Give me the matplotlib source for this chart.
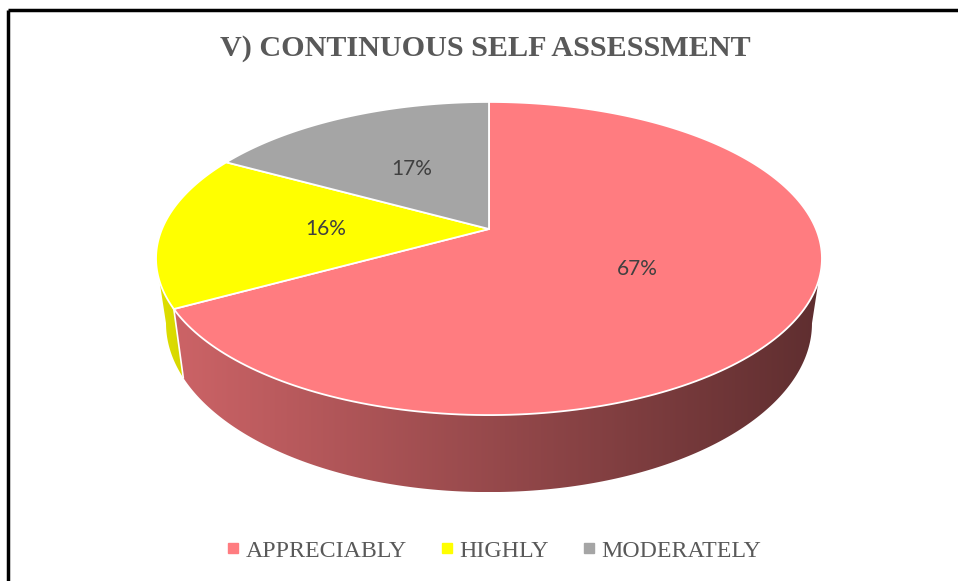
import numpy as np
import matplotlib.pyplot as plt
from matplotlib.patches import Polygon
from matplotlib.lines import Line2D
from matplotlib.colors import to_rgb, LinearSegmentedColormap

# data
labels = ["APPRECIABLY", "HIGHLY", "MODERATELY"]
values = [67, 16, 17]
colors = ["#FF7C80", "#FFFF00", "#A5A5A5"]
title = "V) CONTINUOUS SELF ASSESSMENT"

# 3d pie geometry (pixels), perspective like excel
cx, cy = 489, 229
rx, ry = 327, 151
k = 0.1885
depth = 62.5
bottom_scale = 0.97  # base looks a bit narrower than the top


def project(theta, r=1.0, z=0.0):
    u = r * np.cos(theta)
    v = -r * np.sin(theta)
    w = 1 - k * v
    s = 1 - (1 - bottom_scale) * z
    return cx + s * rx * u / w, cy + ry * v / w + z * depth / w


fig = plt.figure(figsize=(9.58, 5.81), dpi=100)
ax = fig.add_axes([0, 0, 1, 1])
ax.set_xlim(0, 958)
ax.set_ylim(581, 0)
ax.axis("off")

total = sum(values)
fracs = np.array(values) / total
ends = 90 - 360 * np.cumsum(fracs)
starts = np.concatenate([[90], ends[:-1]])

# visible part of the outer wall
vis_lo = -180 + np.degrees(np.arcsin(k))
vis_hi = -np.degrees(np.arcsin(k))

shade = {0: (0.80, 0.37), 1: (0.88, 0.84), 2: (0.7, 0.5)}

for i, (a_end, a_start) in enumerate(zip(ends, starts)):
    lo, hi = max(a_end, vis_lo), min(a_start, vis_hi)
    if hi <= lo:
        continue
    t = np.radians(np.linspace(lo, hi, 200))
    xt, yt = project(t)
    xb, yb = project(t[::-1], z=1.0)
    pts = np.column_stack([np.concatenate([xt, xb]), np.concatenate([yt, yb])])
    poly = Polygon(pts, closed=True, facecolor="none", edgecolor="none")
    ax.add_patch(poly)
    base = np.array(to_rgb(colors[i]))
    f0, f1 = shade[i]
    cmap = LinearSegmentedColormap.from_list("side", [base * f0, base * f1])
    x0, x1 = pts[:, 0].min(), pts[:, 0].max()
    y0, y1 = pts[:, 1].min(), pts[:, 1].max()
    grad = np.linspace(0, 1, 256).reshape(1, -1)
    im = ax.imshow(grad, cmap=cmap, extent=(x0, x1, y1, y0), aspect="auto",
                   interpolation="bilinear", zorder=1)
    im.set_clip_path(poly)
    # thin white edge between slices on the wall
    if lo == a_end and a_end > vis_lo:
        xa, ya = project(np.radians(a_end))
        xz, yz = project(np.radians(a_end), z=1.0)
        ax.plot([xa, xz], [ya, yz], color="white", lw=1.2, zorder=2)

# top faces
for i, (a_end, a_start) in enumerate(zip(ends, starts)):
    t = np.radians(np.linspace(a_start, a_end, 200))
    xt, yt = project(t)
    pts = np.column_stack([np.concatenate([[cx], xt]), np.concatenate([[cy], yt])])
    ax.add_patch(Polygon(pts, closed=True, facecolor=colors[i],
                         edgecolor="white", lw=1.3, zorder=3))
    mid = np.radians((a_start + a_end) / 2)
    lx, ly = project(mid, r=0.5)
    ax.text(lx, ly, "%d%%" % round(fracs[i] * 100), ha="center", va="center",
            fontsize=15, family="Lato", color="#404040", zorder=4)

ax.text(485, 48, title, ha="center", va="center", fontsize=21.7, fontweight="bold",
        family="Liberation Serif", color="#595959")

handles = [Line2D([], [], marker="s", ls="none", markersize=7,
                  markerfacecolor=c, markeredgecolor=c) for c in colors]
ax.legend(handles, labels, loc="center", bbox_to_anchor=(0.516, 0.052), ncol=3,
          frameon=False, prop={"family": "Liberation Serif", "size": 17.2},
          labelcolor="#595959", handlelength=0.45, handletextpad=0.3,
          columnspacing=1.45)

# chart border (top and left visible)
ax.plot([8, 958], [10, 10], color="black", lw=2.5, solid_capstyle="butt")
ax.plot([8, 8], [10, 581], color="black", lw=2.5, solid_capstyle="butt")

fig.savefig("out.png", dpi=100)
